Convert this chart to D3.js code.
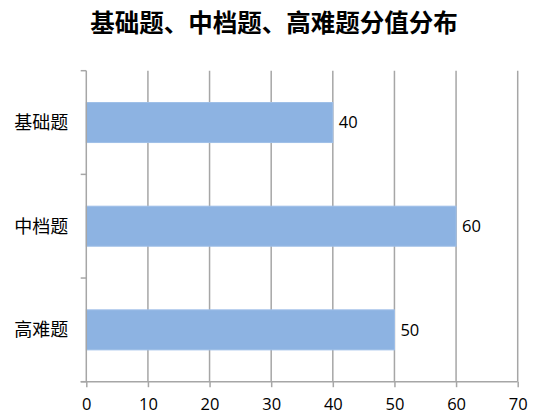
<!DOCTYPE html>
<html>
<head>
<meta charset="utf-8">
<script src="https://cdn.jsdelivr.net/npm/d3@7"></script>
<style>
  body { margin: 0; background: #fff; }
  svg { display: block; }
</style>
</head>
<body>
<div id="chart"></div>
<script>
const title = "基础题、中档题、高难题分值分布";
const categories = ["基础题", "中档题", "高难题"];
const scores = [40, 60, 50];
const xTicks = [0, 10, 20, 30, 40, 50, 60, 70];

const W = 547, H = 416;
const margin = {top: 70.7, right: 29.3, bottom: 34.3, left: 86.3};
const width = W - margin.left - margin.right;
const height = H - margin.top - margin.bottom;
const grey = "#a6a6a6";
const cjk = "'Noto Sans CJK SC', 'Noto Sans', sans-serif";

var svg = d3.select("#chart")
    .append("svg")
    .attr("width", W)
    .attr("height", H);

// Title
svg.append("text")
    .attr("x", 274)
    .attr("y", 32)
    .attr("text-anchor", "middle")
    .style("font-family", cjk)
    .style("font-weight", "bold")
    .style("font-size", "24.5px")
    .attr("fill", "#000")
    .text(title);

var g = svg.append("g")
    .attr("transform", "translate(" + margin.left + "," + margin.top + ")");

var x = d3.scaleLinear()
    .domain([0, 70])
    .range([0, width]);

var y = d3.scaleBand()
    .domain(categories)
    .range([0, height])
    .paddingInner(0.614)
    .paddingOuter(0.307);

// Vertical gridlines
g.append("g")
    .selectAll("line")
    .data(xTicks.slice(1))
    .enter()
    .append("line")
    .attr("x1", d => x(d))
    .attr("x2", d => x(d))
    .attr("y1", 0)
    .attr("y2", height)
    .attr("stroke", grey)
    .attr("stroke-width", 1.5);

// Bars
g.append("g")
    .selectAll("rect")
    .data(scores)
    .enter()
    .append("rect")
    .attr("x", x(0))
    .attr("y", (d, i) => y(categories[i]))
    .attr("width", d => x(d) - x(0))
    .attr("height", y.bandwidth())
    .attr("fill", "#8db3e2")
    .attr("stroke", "#9fbfe8")
    .attr("stroke-width", 1);

// Value labels
g.append("g")
    .selectAll("text")
    .data(scores)
    .enter()
    .append("text")
    .attr("x", d => x(d) + 6)
    .attr("y", (d, i) => y(categories[i]) + y.bandwidth() / 2)
    .attr("dy", "0.36em")
    .style("font-family", "'Open Sans', sans-serif")
    .style("font-size", "16.5px")
    .attr("fill", "#000")
    .text(d => d);

// X axis
var xAxis = g.append("g")
    .attr("transform", "translate(0," + height + ")")
    .call(d3.axisBottom(x).tickValues(xTicks).tickSize(5.5).tickPadding(11));
xAxis.select(".domain").remove();
xAxis.append("line")
    .attr("x1", -5.6).attr("x2", width)
    .attr("stroke", grey).attr("stroke-width", 1.5);
xAxis.selectAll(".tick line").attr("stroke", grey).attr("stroke-width", 1.5);
xAxis.selectAll("text")
    .style("font-family", "'Open Sans', sans-serif")
    .style("font-size", "16.5px")
    .attr("fill", "#000");

// Y axis: line, ticks at band boundaries, labels at band centres
var yAxis = g.append("g");
yAxis.append("line")
    .attr("x1", 0).attr("x2", 0)
    .attr("y1", 0).attr("y2", height)
    .attr("stroke", grey).attr("stroke-width", 1.5);
yAxis.selectAll(".ytick")
    .data(d3.range(categories.length + 1))
    .enter()
    .append("line")
    .attr("class", "ytick")
    .attr("x1", -5.6).attr("x2", 0)
    .attr("y1", i => i * y.step())
    .attr("y2", i => i * y.step())
    .attr("stroke", grey).attr("stroke-width", 1.5);
yAxis.selectAll(".ylabel")
    .data(categories)
    .enter()
    .append("text")
    .attr("class", "ylabel")
    .attr("x", -18)
    .attr("y", d => y(d) + y.bandwidth() / 2)
    .attr("dy", "0.36em")
    .attr("text-anchor", "end")
    .style("font-family", cjk)
    .style("font-size", "18px")
    .attr("fill", "#000")
    .text(d => d);
</script>
</body>
</html>
